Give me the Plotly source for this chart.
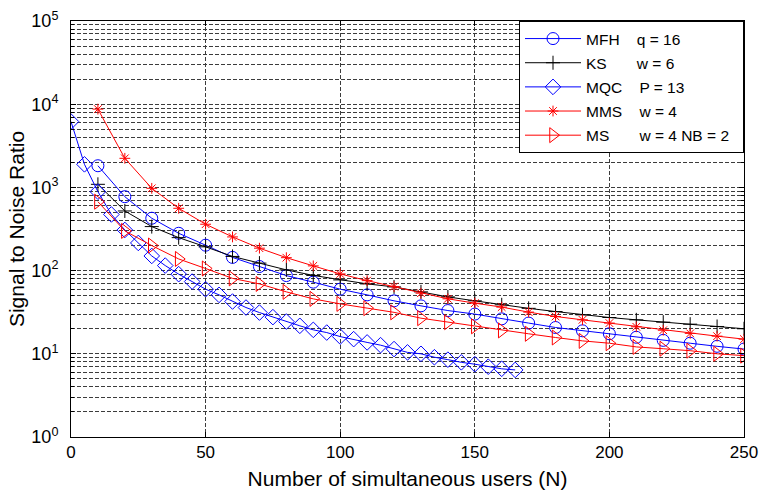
import plotly.graph_objects as go

# Number of simultaneous users
n_users = [10, 20, 30, 40, 50, 60, 70, 80, 90, 100, 110, 120, 130, 140, 150,
           160, 170, 180, 190, 200, 210, 220, 230, 240, 250]
n_users_mqc = [0, 5, 10, 15, 20, 25, 30, 35, 40, 45, 50, 55, 60, 65, 70, 75, 80,
               85, 90, 95, 100, 105, 110, 115, 120, 125, 130, 135, 140, 145, 150,
               155, 160, 165]

# SNR of each code family
snr_mfh = [1822, 773, 426, 281, 202, 144, 112, 87.1, 72.6, 59.8, 51.1, 43.3, 37.7,
           33.1, 30.0, 26.3, 23.4, 20.7, 18.9, 17.4, 15.8, 14.5, 13.4, 12.3, 11.4]
snr_ks = [1089, 521, 338, 249, 193, 148, 123, 102, 87.5, 77.3, 69.2, 63.7, 55.5,
          48.3, 43.3, 38.8, 35.2, 32.2, 29.4, 27.3, 25.6, 24.0, 22.7, 21.3, 20.0]
snr_mqc = [6180, 1893, 888, 473, 308, 215, 150, 115, 90.6, 73.8, 59.8, 51.1, 42.5,
           36.0, 31.3, 27.6, 24.4, 21.7, 19.4, 18.0, 16.1, 15.0, 13.7, 12.7, 11.4,
           10.4, 10.0, 9.1, 8.5, 7.9, 7.5, 7.0, 6.6, 6.4]
snr_mms = [8730, 2236, 975, 561, 361, 254, 186, 143, 114, 91.2, 75.8, 64.2, 53.5,
           45.8, 40.6, 36.4, 31.7, 28.1, 25.6, 23.4, 21.1, 19.2, 17.6, 16.3, 15.0]
snr_ms = [673, 300, 200, 138, 106, 80.6, 69.2, 55.5, 45.7, 39.8, 35.4, 31.5, 26.8,
          24.0, 21.4, 19.1, 17.4, 15.7, 14.3, 13.4, 12.1, 11.5, 10.9, 10.0, 9.5]

# Axis ticks
x_ticks = [0, 50, 100, 150, 200, 250]
y_ticks = [1, 10, 100, 1000, 10000, 100000]
y_ticktext = ["10<sup>0</sup>", "10<sup>1</sup>", "10<sup>2</sup>",
              "10<sup>3</sup>", "10<sup>4</sup>", "10<sup>5</sup>"]
y_minor = [m * 10 ** e for e in range(5) for m in range(2, 10)]

NB = "\u00a0"
series = [
    ("MFH" + NB * 4 + "q = 16", n_users, snr_mfh, "#0000ff", "circle-open", 12),
    ("KS" + NB * 7 + "w = 6", n_users, snr_ks, "#000000", "cross-thin-open", 10),
    ("MQC" + NB * 4 + "P = 13", n_users_mqc, snr_mqc, "#0000ff", "diamond-open", 12),
    ("MMS" + NB * 4 + "w = 4", n_users, snr_mms, "#ff0000", "asterisk-open", 9),
    ("MS" + NB * 7 + "w = 4 NB = 2" + NB * 2, n_users, snr_ms, "#ff0000",
     "triangle-right-open", 13),
]

fig = go.Figure()
for i, (name, xs, ys, color, symbol, size) in enumerate(series):
    fig.add_trace(go.Scatter(
        x=xs, y=ys, name=name, mode="lines+markers", legendgroup=str(i),
        line=dict(color=color, width=1),
        marker=dict(symbol=symbol, size=size, color=color,
                    line=dict(color=color, width=1)),
    ))

grid = dict(gridcolor="#3c3c3c", gridwidth=1, griddash="4px,2px")
font = "Liberation Sans, Arial, Helvetica, sans-serif"

fig.update_layout(
    width=760, height=491,
    margin=dict(l=71, r=16, t=21, b=54),
    paper_bgcolor="white", plot_bgcolor="white",
    font=dict(family=font, size=18, color="black"),
    showlegend=True,
    legend=dict(
        x=1, y=1, xanchor="right", yanchor="top",
        xref="paper", yref="paper",
        bgcolor="white", bordercolor="black", borderwidth=1,
        font=dict(size=15.5, family=font),
        tracegroupgap=1, itemwidth=56,
    ),
    xaxis=dict(
        range=[0, 250], tickvals=x_ticks, showgrid=True, **grid,
        showline=True, linecolor="black", linewidth=1, mirror="ticks",
        ticks="inside", ticklen=5, tickcolor="black", zeroline=False,
        tickfont=dict(size=17),
        title=dict(text="Number of simultaneous users (N)", font=dict(size=21),
                   standoff=9),
        automargin=False,
    ),
    yaxis=dict(
        type="log", range=[0, 5], tickmode="array", tickvals=y_ticks,
        ticktext=y_ticktext, showgrid=True, **grid,
        minor=dict(tickmode="array", tickvals=y_minor, showgrid=True,
                   ticks="inside", ticklen=3, tickcolor="black", **grid),
        showline=True, linecolor="black", linewidth=1, mirror="ticks",
        ticks="inside", ticklen=5, tickcolor="black", zeroline=False,
        tickfont=dict(size=18), ticklabelstandoff=8,
        title=dict(text="Signal to Noise Ratio", font=dict(size=21), standoff=1),
        automargin=False,
    ),
)

fig.write_html("out.html")
